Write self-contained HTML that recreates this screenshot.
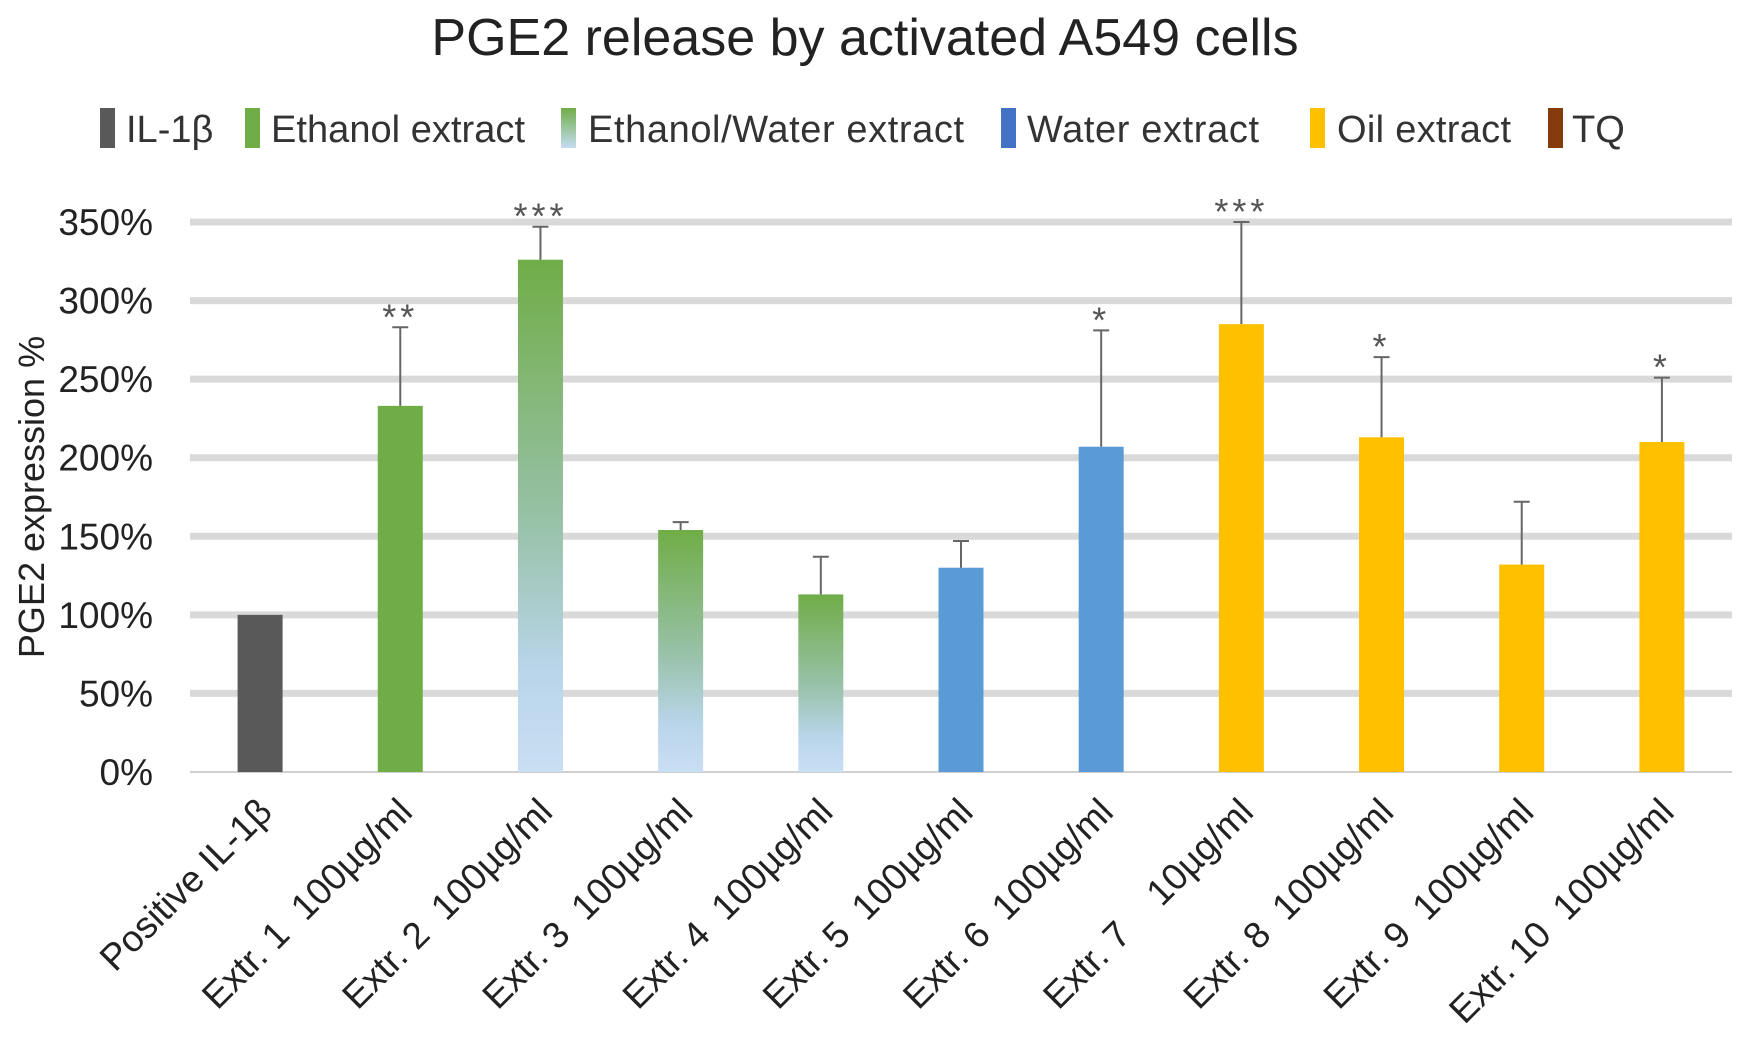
<!DOCTYPE html>
<html><head><meta charset="utf-8"><style>
html,body{margin:0;padding:0;background:#fff;}
svg{display:block;font-family:"Liberation Sans",sans-serif;}
</style></head><body>
<svg id="chart" width="1750" height="1043" viewBox="0 0 1750 1043">
<defs>
<linearGradient id="ew" x1="0" y1="0" x2="0" y2="1">
<stop offset="0" stop-color="#70ad47"/><stop offset="0.5" stop-color="#97c1a6"/><stop offset="0.8" stop-color="#b9d5ea"/><stop offset="1" stop-color="#c9def3"/>
</linearGradient>
<linearGradient id="ewLeg" x1="0" y1="0" x2="0" y2="1">
<stop offset="0" stop-color="#70ad47"/><stop offset="1" stop-color="#c5dcf2"/>
</linearGradient>
</defs>
<text x="865" y="55" text-anchor="middle" font-size="52" fill="#222">PGE2 release by activated A549 cells</text>
<g font-size="38" fill="#333">
<rect x="100" y="108" width="15" height="40" fill="#595959"/>
<text x="126" y="142">IL-1β</text>
<rect x="245" y="108" width="15" height="40" fill="#70ad47"/>
<text x="271" y="142" textLength="254">Ethanol extract</text>
<rect x="561" y="108" width="15" height="40" fill="url(#ewLeg)"/>
<text x="588" y="142" textLength="376">Ethanol/Water extract</text>
<rect x="1001" y="108" width="15" height="40" fill="#4472c4"/>
<text x="1027" y="142" textLength="232">Water extract</text>
<rect x="1310" y="108" width="15" height="40" fill="#ffc000"/>
<text x="1337" y="142" textLength="174">Oil extract</text>
<rect x="1548" y="108" width="15" height="40" fill="#843c0c"/>
<text x="1572" y="142">TQ</text>
</g>
<text transform="translate(44,497) rotate(-90)" text-anchor="middle" font-size="36" fill="#222">PGE2 expression %</text>
<g id="grid"></g><g id="bars"></g><g id="xlabels"></g>
</svg>
<script>
const categories = ["Positive IL-1β","Extr. 1  100µg/ml","Extr. 2  100µg/ml","Extr. 3  100µg/ml","Extr. 4  100µg/ml","Extr. 5  100µg/ml","Extr. 6  100µg/ml","Extr. 7    10µg/ml","Extr. 8  100µg/ml","Extr. 9  100µg/ml","Extr. 10  100µg/ml"];
const values = [100,233,326,154,113,130,207,285,213,132,210];
const errorTops = [100,283,347,159,137,147,281,350,264,172,251];
const significance = ["","**","***","","","","*","***","*","","*"];
const groups = ["il1b","ethanol","ew","ew","ew","water","water","oil","oil","oil","oil"];
const ticks = [0,50,100,150,200,250,300,350];

const NS="http://www.w3.org/2000/svg";
const x0=190,x1=1732,yZero=772,yTop=222,vMax=350;
const n=categories.length, step=(x1-x0)/n, bw=45;
const y=v=>yZero-(v/vMax)*(yZero-yTop);
const xc=i=>x0+step*(i+0.5);
const fills={il1b:"#595959",ethanol:"#70ad47",ew:"url(#ew)",water:"#5b9bd5",oil:"#ffc000"};
function mk(t,a){const e=document.createElementNS(NS,t);for(const k in a)e.setAttribute(k,a[k]);return e;}
const grid=document.getElementById('grid');
ticks.forEach(t=>{
  const l=mk('line',{x1:x0,x2:x1,y1:y(t),y2:y(t),stroke:t===0?'#d0d0d0':'#d9d9d9','stroke-width':t===0?2:7});
  
  
  grid.appendChild(l);
  const tx=mk('text',{x:153,y:y(t)+13,'text-anchor':'end','font-size':37,fill:'#222'});
  tx.textContent=t+'%';
  
  
  grid.appendChild(tx);
});
const bars=document.getElementById('bars'), xl=document.getElementById('xlabels');
categories.forEach((c,i)=>{
  const cx=xc(i);
  const r=mk('rect',{x:cx-bw/2,y:y(values[i]),width:bw,height:yZero-y(values[i]),fill:fills[groups[i]]});
  
  
  bars.appendChild(r);
  if(errorTops[i]>values[i]+1){
    const el=mk('path',{d:`M${cx} ${y(values[i])}V${y(errorTops[i])}M${cx-8} ${y(errorTops[i])}H${cx+8}`,stroke:'#666','stroke-width':2,fill:'none'});
    
    
    bars.appendChild(el);
  }
  if(significance[i]){
    const s=mk('text',{x:cx,y:y(errorTops[i])+2,'text-anchor':'middle','font-size':36,fill:'#555','letter-spacing':4});
    s.textContent=significance[i];
    
    
    bars.appendChild(s);
  }
  const lb=mk('text',{transform:`translate(${cx+14},${814}) rotate(-45)`,'text-anchor':'end','font-size':37,fill:'#222'});
  lb.setAttribute('style','white-space:pre');
  lb.textContent=c;
  
  
  xl.appendChild(lb);
});
</script>
</body></html>
